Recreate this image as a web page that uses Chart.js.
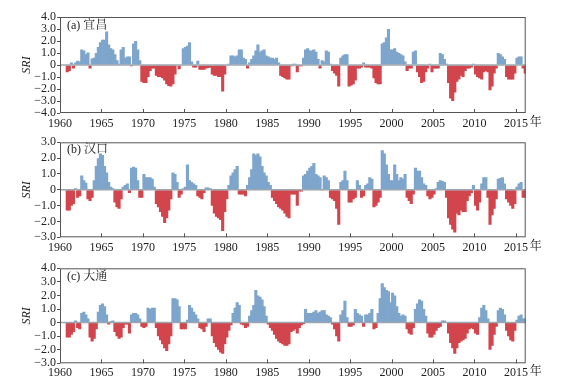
<!DOCTYPE html>
<html>
<head>
<meta charset="utf-8">
<script src="https://cdn.jsdelivr.net/npm/chart.js@4.4.1/dist/chart.umd.min.js"></script>
<style>
  body { margin: 0; background: #fff; width: 573px; height: 389px; position: relative; overflow: hidden; }
  canvas { position: absolute; left: 0; }
</style>
</head>
<body>
<canvas id="c1" width="573" height="132" style="top:0"></canvas>
<canvas id="c2" width="573" height="126" style="top:130px"></canvas>
<canvas id="c3" width="573" height="134" style="top:255px"></canvas>
<script>
// quarterly SRI values, starting 1960 Q4
const START_YEAR = 1960.75;
const STEP = 0.25;
const xTicks = [1960, 1965, 1970, 1975, 1980, 1985, 1990, 1995, 2000, 2005, 2010, 2015];

const yichang = [
  -0.6,-0.5,0.2,-0.3,0.2,0.35,0.3,1.3,1.2,0.9,1.05,-0.3,
  0.55,0.6,1.0,1.5,1.9,2.1,2.1,2.8,1.7,1.4,1.3,0.9,
  0.4,0.1,1.3,1.5,0.6,0.7,0.7,-0.1,1.8,2.0,1.3,0.4,
  -1.4,-1.5,-1.5,-1.0,-0.5,-0.3,-0.3,-0.9,-1.0,-1.0,-1.1,-1.3,
  -1.6,-1.75,-1.8,-1.6,-0.8,0.05,-0.35,0.05,1.4,1.5,1.6,1.9,
  0.3,-0.2,-0.2,0.35,-0.4,-0.4,-0.4,-0.3,-0.25,-0.2,-0.8,-0.9,
  -0.9,-1.0,-1.0,-2.2,-0.8,0.05,0.1,0.8,0.8,0.7,0.8,1.3,
  1.3,0.6,0.5,-0.3,0.2,0.5,0.8,1.2,1.7,1.1,1.2,1.3,
  0.8,0.7,0.6,0.6,0.5,0.6,0.2,-0.9,-1.0,-1.1,-1.2,-1.2,
  -0.1,0.1,0.1,-0.6,-0.1,-0.1,0.6,1.3,1.4,1.2,1.2,1.3,
  1.1,0.5,-0.3,0.4,0.3,1.2,1.1,0.1,-0.5,-0.7,-0.9,-1.8,
  0.6,0.8,0.9,0.9,-1.8,-1.7,-1.6,-1.3,-0.3,-0.3,-0.2,0.2,
  -0.2,-0.2,-0.2,-0.3,-1.1,-1.5,-1.6,-1.6,1.8,1.9,2.3,3.0,
  1.3,1.3,1.4,1.1,1.0,0.9,0.8,0.3,-0.5,-0.3,-0.3,1.1,
  1.2,-0.6,-1.0,-1.5,-1.4,-0.6,-0.3,0.1,-0.6,-0.3,-0.3,-0.3,
  1.0,0.9,0.5,0.1,-1.5,-2.8,-3.0,-2.3,-1.4,-1.2,-0.9,-1.0,
  -0.5,-0.3,-0.3,-0.2,0.1,-0.8,-1.0,-1.1,-1.2,-0.6,-0.5,-0.6,
  -2.1,-1.8,-0.7,-0.3,1.0,0.9,0.7,0.5,-1.0,-1.2,-1.2,-1.2,
  -0.7,0.6,0.7,0.7,-0.3,-0.7
];

const hankou = [
  -1.3,-1.3,-1.0,-0.9,0.1,-0.5,-0.4,0.9,0.6,0.45,-0.6,-0.7,
  -0.5,0.6,1.5,2.0,2.3,2.2,1.5,1.1,0.5,0.2,0.1,-0.8,
  -1.1,-1.2,-0.6,0.2,0.3,0.4,-0.2,1.4,1.45,1.4,0.6,-0.5,
  -0.5,1.0,0.8,0.8,0.8,0.7,0.2,-0.9,-1.1,-1.4,-1.7,-2.1,
  -1.8,-1.3,-0.6,1.1,1.0,0.5,-0.5,-0.3,0.1,0.2,1.6,0.6,
  0.5,0.4,0.3,-0.4,-0.5,-0.6,-0.2,0.15,0.15,0.1,-1.0,-1.5,
  -1.7,-1.8,-1.9,-2.6,-1.4,-0.6,0.3,0.9,1.1,1.3,1.5,-0.3,
  -0.3,-0.3,-0.4,0.3,0.8,1.3,2.3,2.2,2.3,2.1,1.5,1.1,
  0.9,0.5,0.3,-0.5,-0.7,-0.9,-1.1,-1.2,-1.3,-1.5,-1.7,-1.8,
  -0.3,-0.3,-0.3,-1.0,-0.1,-0.1,0.9,1.0,1.2,1.4,1.5,1.7,
  1.0,0.9,0.8,-0.05,0.9,0.8,0.6,-0.5,-0.6,-0.7,-1.2,-2.2,
  0.5,0.6,1.2,0.6,-0.8,-0.8,-0.6,-0.5,0.6,0.3,-0.5,-0.4,
  0.3,0.4,0.8,0.7,-1.1,-1.0,-0.8,-0.5,2.5,2.3,1.6,1.0,
  0.6,0.6,1.6,1.0,0.6,0.8,0.7,1.0,-0.5,-0.7,-0.9,-0.3,
  1.4,1.2,1.2,0.8,0.4,0.3,-0.4,-0.6,-0.5,-0.3,0.1,0.5,
  0.6,0.55,0.5,-0.5,-1.8,-2.2,-2.5,-2.7,-1.5,-1.6,-1.3,-1.4,
  -1.4,-0.7,-0.4,-0.2,0.3,-1.0,-1.3,-0.8,0.4,0.8,0.8,-0.5,
  -2.2,-1.6,-1.2,-0.6,0.7,0.75,0.8,0.4,-0.6,-0.8,-1.0,-1.2,
  -0.9,0.2,0.4,0.5,-0.5,-0.5
];

const datong = [
  -1.1,-1.1,-0.9,-0.7,0.15,-0.4,-0.5,0.7,0.8,0.6,0.3,-1.1,
  -1.4,-1.2,-0.5,0.8,1.3,1.4,1.2,0.6,-0.15,0.1,0.15,-0.7,
  -1.0,-1.2,-1.1,-0.4,-0.15,-0.15,-0.8,0.6,0.7,0.7,0.6,0.3,
  -0.3,-0.4,-0.3,1.1,1.0,1.1,1.1,-0.4,-1.0,-1.3,-1.6,-1.9,
  -2.1,-1.6,-1.0,1.8,1.8,1.7,1.2,-0.5,-0.5,-0.5,0.2,1.3,
  1.1,0.8,0.6,0.3,-0.4,-0.5,-0.7,-0.3,0.3,0.3,-1.0,-1.5,
  -1.8,-2.0,-2.2,-2.3,-1.6,-1.1,-0.6,-0.2,0.7,1.1,1.5,1.3,
  -0.15,-0.2,-0.4,-0.3,0.5,0.9,1.3,2.4,2.0,1.9,1.7,1.2,
  0.5,-0.15,-0.4,-0.6,-0.9,-1.2,-1.4,-1.5,-1.6,-1.7,-1.7,-1.6,
  -0.7,-0.6,-0.5,-0.8,-0.4,-0.2,-0.1,1.0,0.7,0.7,0.7,0.8,
  0.9,0.7,0.8,0.9,0.9,0.6,0.5,0.4,-0.15,-0.5,-1.0,-1.4,
  0.6,0.9,1.6,0.4,-0.3,-0.3,-0.2,1.0,0.7,0.6,0.5,-0.3,
  0.6,0.6,0.7,1.0,-0.5,-0.4,0.7,1.8,2.9,2.6,2.4,2.3,
  1.5,2.2,2.0,1.2,0.7,0.5,0.6,0.5,-0.5,-0.8,-0.9,-0.4,
  1.0,1.4,1.7,1.6,1.0,0.5,-0.8,-1.1,-1.1,-0.9,-0.6,-0.4,
  -0.3,0.15,0.15,0.05,-0.8,-1.5,-1.9,-2.3,-1.9,-1.5,-1.4,-1.3,
  -1.2,-0.8,-0.5,-0.4,-0.5,-0.8,-0.9,0.4,1.1,1.3,0.9,0.3,
  -2.0,-1.7,-0.9,-0.3,0.9,1.1,1.0,0.6,-0.6,-1.0,-1.3,-1.4,
  -0.6,0.2,0.5,0.6,0.3,0.3
];

const BLUE = "#7ea5cb";
const RED = "#d2454c";
const serif = '"Liberation Serif", "Times New Roman", serif';
const cjk = '"Liberation Serif", "Noto Serif CJK SC", "Noto Sans CJK SC", serif';

function tickLabel(v) {
  if (v === 0) return "0";
  return (v < 0 ? "\u2212" : "") + Math.abs(v).toFixed(1);
}

const decor = {
  id: "decor",
  afterDatasetsDraw(chart, args, opts) {
    const { ctx, chartArea: a, scales: { x, y } } = chart;
    ctx.save();
    const y0 = y.getPixelForValue(0);
    ctx.strokeStyle = "#9da6af";
    ctx.lineWidth = 1.5;
    ctx.beginPath();
    ctx.moveTo(a.left, y0);
    ctx.lineTo(a.right, y0);
    ctx.stroke();
    ctx.strokeStyle = "#555";
    ctx.lineWidth = 1;
    ctx.strokeRect(a.left + 0.5, a.top + 0.5, a.right - a.left - 1, a.bottom - a.top - 1);
    ctx.beginPath();
    xTicks.forEach((v) => {
      const px = Math.round(x.getPixelForValue(v)) + 0.5;
      ctx.moveTo(px, a.bottom);
      ctx.lineTo(px, a.bottom - 4);
    });
    ctx.stroke();
    ctx.fillStyle = "#222";
    ctx.font = `12px ${cjk}`;
    ctx.textBaseline = "middle";
    ctx.textAlign = "left";
    ctx.fillText(opts.label, a.left + 7, a.top + opts.labelDy);
    ctx.fillText("年", a.right + 4, a.bottom + opts.yearDy);
    ctx.restore();
  }
};

function makeChart(id, values, label, yMin, yMax, padTop, plotBottom, labelDy, yearDy, tickPad) {
  const canvas = document.getElementById(id);
  const H = canvas.height;
  const points = values.map((v, i) => ({ x: START_YEAR + STEP * i + STEP / 2, y: v }));
  return new Chart(canvas, {
    type: "bar",
    data: {
      datasets: [{
        data: points,
        backgroundColor: values.map((v) => (v >= 0 ? BLUE : RED)),
        borderWidth: 0,
        inflateAmount: 0,
        barPercentage: 1.5,
        categoryPercentage: 1
      }]
    },
    options: {
      responsive: false,
      animation: false,
      events: [],
      devicePixelRatio: 1,
      layout: { padding: { top: padTop, right: 47.3, left: 0, bottom: 0 } },
      plugins: { legend: { display: false }, tooltip: { enabled: false }, decor: { label, labelDy, yearDy } },
      scales: {
        x: {
          type: "linear",
          min: 1960,
          max: 2016.18,
          offset: false,
          grid: { display: false, drawTicks: false },
          border: { display: false },
          afterBuildTicks: (scale) => { scale.ticks = xTicks.map((v) => ({ value: v })); },
          afterFit: (scale) => { scale.height = H - plotBottom; },
          ticks: { autoSkip: false, maxRotation: 0, padding: tickPad, color: "#222", font: { family: serif, size: 12 }, callback: (v) => String(v) }
        },
        y: {
          min: yMin,
          max: yMax,
          afterFit: (scale) => { scale.width = 60; },
          grid: { drawOnChartArea: false, drawTicks: true, tickLength: 3, color: "#555" },
          border: { display: false },
          ticks: { stepSize: 1, autoSkip: false, padding: 1, color: "#222", font: { family: serif, size: 12 }, callback: tickLabel },
          title: { display: true, text: "SRI", color: "#222", font: { family: serif, size: 12, style: "italic" }, padding: { top: 20, bottom: 0 } }
        }
      }
    },
    plugins: [decor]
  });
}

makeChart("c1", yichang, "(a) 宜昌", -4, 4, 17, 113, 9, 10, 3.5);
makeChart("c2", hankou, "(b) 汉口", -3, 3, 12.3, 107.3, 8, 9.5, 3);
makeChart("c3", datong, "(c) 大通", -3, 4, 13.3, 108.3, 9, 9, 2.5);
</script>
</body>
</html>
